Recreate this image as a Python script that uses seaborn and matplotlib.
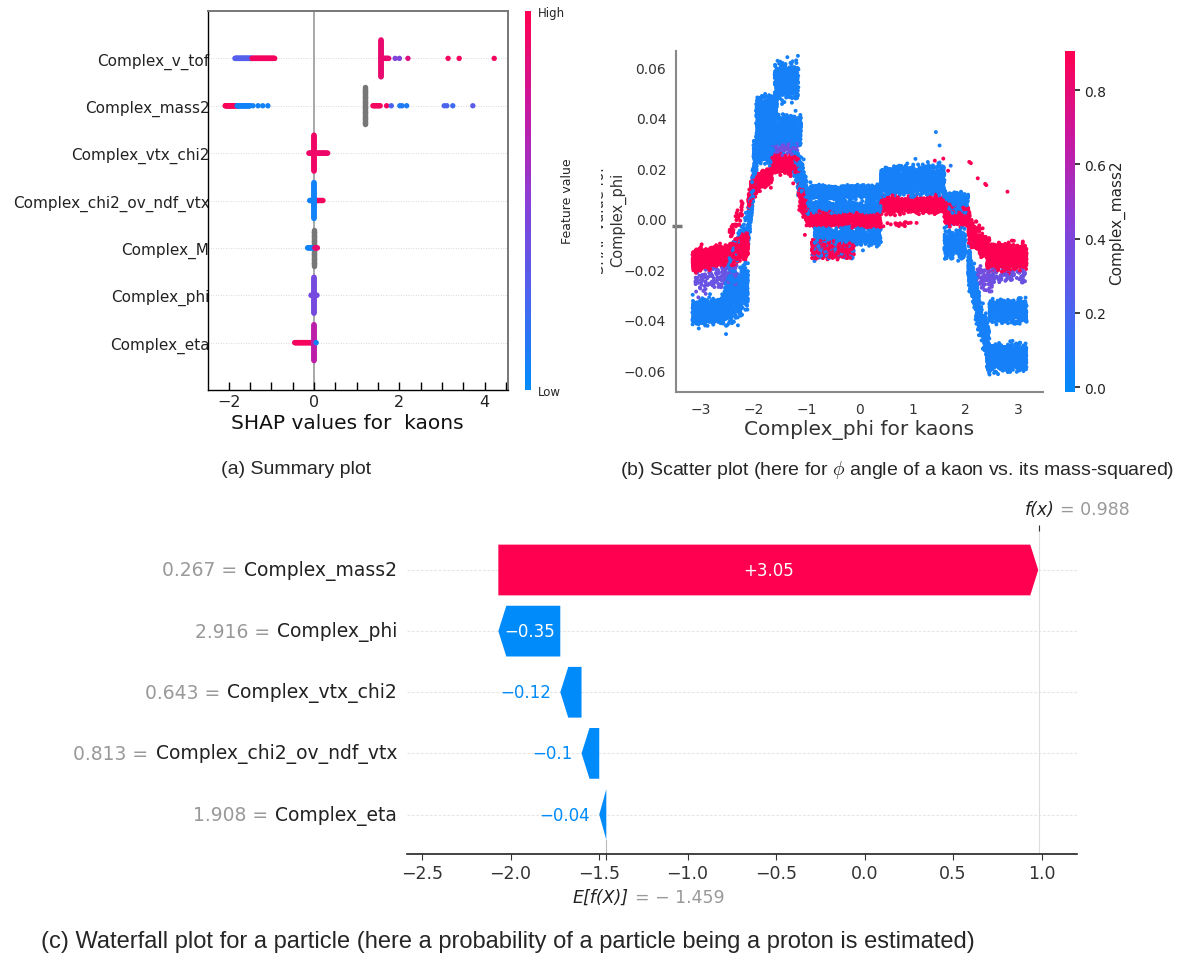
import numpy as np
import pandas as pd
import matplotlib
matplotlib.use("Agg")
import matplotlib.pyplot as plt
import seaborn as sns
from matplotlib.colors import LinearSegmentedColormap, Normalize
from matplotlib.cm import ScalarMappable
from matplotlib.patches import Polygon, Rectangle
from matplotlib.ticker import MultipleLocator

sns.set_theme(style="white")
plt.rcParams["font.family"] = ["DejaVu Sans"]
plt.rcParams["mathtext.fontset"] = "cm"

# ---------------------------------------------------------------- (a) summary
features_a = ["Complex_v_tof", "Complex_mass2", "Complex_vtx_chi2",
              "Complex_chi2_ov_ndf_vtx", "Complex_M", "Complex_phi", "Complex_eta"]

# horizontal runs of overlapping dots: feature, SHAP from, SHAP to, feature value, dots
streak_feature = ["Complex_v_tof", "Complex_v_tof", "Complex_v_tof",
                  "Complex_mass2", "Complex_mass2", "Complex_mass2",
                  "Complex_vtx_chi2", "Complex_chi2_ov_ndf_vtx", "Complex_chi2_ov_ndf_vtx",
                  "Complex_M", "Complex_M", "Complex_phi", "Complex_eta"]
streak_from = [-1.85, -1.45, 1.57, -2.08, -1.80, 1.38, -0.12, -0.10, 0.06, -0.15, 0.02, -0.07, -0.45]
streak_to = [-1.45, -0.92, 1.75, -1.80, -1.50, 1.55, 0.32, 0.06, 0.21, -0.02, 0.08, 0.07, -0.02]
streak_value = [0.28, 0.95, 0.9, 0.97, 0.06, 0.95, 0.92, 0.05, 0.95, 0.05, 0.9, 0.42, 0.96]
streak_count = [40, 45, 10, 30, 30, 8, 25, 12, 8, 8, 5, 10, 35]

# stacked piles of dots: feature, SHAP value, half height (rows), feature value (nan = missing), dots
pile_feature = ["Complex_v_tof", "Complex_mass2", "Complex_vtx_chi2",
                "Complex_chi2_ov_ndf_vtx", "Complex_M", "Complex_phi", "Complex_eta"]
pile_shap = [1.57, 1.19, 0.0, 0.0, 0.0, 0.0, 0.0]
pile_half = [0.39, 0.39, 0.38, 0.38, 0.38, 0.38, 0.38]
pile_value = [0.9, np.nan, 0.93, 0.06, np.nan, 0.42, 0.7]
pile_count = [45, 45, 45, 45, 45, 45, 45]

# isolated dots
dot_feature = ["Complex_v_tof"] * 6 + ["Complex_mass2"] * 14 + ["Complex_eta"]
dot_shap = [1.90, 2.00, 2.20, 3.14, 3.40, 4.22,
            -1.57, -1.43, -1.31, -1.20, -1.08, 1.70, 1.81, 2.01, 2.06, 2.17, 3.05, 3.11, 3.25, 3.72,
            0.05]
dot_value = [0.45, 0.45, 0.85, 0.95, 0.95, 0.95,
             0.06, 0.06, 0.06, 0.06, 0.06, 0.95, 0.25, 0.1, 0.1, 0.1, 0.25, 0.25, 0.2, 0.3,
             0.05]

# ---------------------------------------------------------------- (b) dependence
# bands of the Complex_phi dependence cloud:
# phi from, phi to, SHAP centre at start, SHAP centre at end, half thickness, Complex_mass2, points
band_phi_from = [-3.15, -2.45, -3.10, -3.15, -2.55, -2.50, -2.45,
                 -2.10, -1.95, -1.60, -1.95, -2.00, -1.65, -1.65, -2.05, -2.10, -1.25,
                 -1.15, -1.15,
                 -1.00, -1.00, -1.00, -0.85, -0.90, -0.90,
                 0.40, 0.40, 0.50,
                 1.60, 1.60, 1.60,
                 2.05, 2.05, 2.20, 2.20,
                 2.40, 2.45, 2.45, 2.40]
band_phi_to = [-2.45, -2.10, -2.30, -2.55, -2.10, -2.05, -2.20,
               -1.90, -1.55, -1.15, -1.10, -1.60, -1.15, -1.15, -1.65, -2.00, -1.10,
               -0.98, -0.98,
               0.40, 0.40, 0.40, 0.40, -0.10, -0.10,
               1.60, 1.60, 1.10,
               2.05, 2.08, 2.00,
               2.45, 2.25, 2.45, 2.50,
               3.15, 3.15, 3.15, 3.15]
band_shap_start = [-0.0165, -0.0145, -0.0255, -0.0375, -0.0340, -0.0200, -0.0060,
                   -0.0050, 0.0440, 0.0545, 0.0350, 0.0270, 0.0280, 0.0215, 0.0120, 0.0060, 0.0250,
                   0.0200, 0.0120,
                   0.0105, 0.0040, 0.0005, -0.0070, -0.0120, -0.0120,
                   0.0150, 0.0055, -0.0020,
                   0.0065, 0.0030, -0.0100,
                   -0.0040, -0.0180, -0.0350, -0.0220,
                   -0.0150, -0.0225, -0.0365, -0.0550]
band_shap_end = [-0.0145, -0.0100, -0.0220, -0.0360, -0.0260, 0.0020, 0.0040,
                 0.0350, 0.0440, 0.0545, 0.0350, 0.0270, 0.0280, 0.0215, 0.0180, 0.0110, 0.0150,
                 0.0080, 0.0020,
                 0.0105, 0.0040, -0.0010, -0.0070, -0.0120, -0.0120,
                 0.0150, 0.0055, -0.0020,
                 0.0050, 0.0000, -0.0100,
                 -0.0130, -0.0350, -0.0500, -0.0250,
                 -0.0150, -0.0225, -0.0365, -0.0550]
band_half = [0.0035, 0.0040, 0.0040, 0.0040, 0.0080, 0.0040, 0.0030,
             0.0060, 0.0040, 0.0055, 0.0050, 0.0040, 0.0025, 0.0028, 0.0028, 0.0030, 0.0060,
             0.0060, 0.0050,
             0.0022, 0.0020, 0.0025, 0.0030, 0.0030, 0.0030,
             0.0045, 0.0025, 0.0008,
             0.0035, 0.0035, 0.0045,
             0.0040, 0.0070, 0.0060, 0.0035,
             0.0038, 0.0025, 0.0035, 0.0042]
band_mass2 = [0.90, 0.90, 0.32, 0.05, 0.05, 0.05, 0.90,
              0.05, 0.05, 0.05, 0.05, 0.05, 0.35, 0.90, 0.90, 0.90, 0.05,
              0.05, 0.90,
              0.05, 0.05, 0.90, 0.05, 0.90, 0.08,
              0.05, 0.90, 0.90,
              0.05, 0.90, 0.05,
              0.90, 0.05, 0.05, 0.35,
              0.90, 0.33, 0.05, 0.05]
band_points = [700, 400, 130, 600, 500, 120, 40,
               300, 300, 400, 700, 300, 80, 500, 350, 80, 150,
               200, 200,
               900, 700, 900, 600, 500, 200,
               1200, 900, 15,
               400, 400, 350,
               300, 300, 250, 60,
               900, 80, 600, 800]

# single outlying kaons
outlier_phi = [1.44, 1.51, 1.42, 1.58, 1.52, 1.67, 1.72, 2.07, 2.10, 2.23, 2.37, 2.39, 2.79, -1.25, -1.03, 0.45]
outlier_shap = [0.0343, 0.0290, 0.0230, 0.0238, 0.0180, 0.0190, 0.0210, 0.0225, 0.0220, 0.0160,
                0.0138, 0.0133, 0.0107, 0.0140, -0.0064, -0.0030]
outlier_mass2 = [0.05, 0.05, 0.90, 0.90, 0.90, 0.90, 0.10, 0.90, 0.90, 0.90, 0.90, 0.90, 0.90,
                 0.90, 0.90, 0.90]
phi_mean_marker = -0.003

# ---------------------------------------------------------------- (c) waterfall
wf_features = ["Complex_mass2", "Complex_phi", "Complex_vtx_chi2", "Complex_chi2_ov_ndf_vtx", "Complex_eta"]
wf_feature_values = ["0.267", "2.916", "0.643", "0.813", "1.908"]
wf_shap = [3.05, -0.35, -0.12, -0.1, -0.04]
base_value = -1.459
fx_value = 0.988

# ---------------------------------------------------------------- figure
W, H = 1184, 962
fig = plt.figure(figsize=(W / 100, H / 100), dpi=100)


def axes_at(left, top, right, bottom):
    return fig.add_axes([left / W, 1 - bottom / H, (right - left) / W, (bottom - top) / H])


red = "#ff0051"
blue = "#008bfb"
shap_cmap = LinearSegmentedColormap.from_list(
    "shap_red_blue", [blue, "#4d63ee", "#8a3ed6", "#c8179e", red])

# ---------------- (a) summary plot
ax_a = axes_at(208, 12, 508, 391)
row_of = {f: len(features_a) - 1 - i for i, f in enumerate(features_a)}
recs = []
for f, x0, x1, v, n in zip(streak_feature, streak_from, streak_to, streak_value, streak_count):
    for x in np.linspace(x0, x1, n):
        recs.append((x, row_of[f], v))
for f, x, hh, v, n in zip(pile_feature, pile_shap, pile_half, pile_value, pile_count):
    for dy in np.linspace(-hh, hh, n):
        recs.append((x, row_of[f] + dy, v))
for f, x, v in zip(dot_feature, dot_shap, dot_value):
    recs.append((x, row_of[f], v))
summary = pd.DataFrame(recs, columns=["shap", "row", "value"])

for r in row_of.values():
    ax_a.axhline(r, color="#cccccc", lw=0.6, dashes=(1, 2), zorder=0)
ax_a.axvline(0, color="#999999", lw=1.2, zorder=0.5)

missing = summary[summary["value"].isna()]
present = summary[summary["value"].notna()]
sns.scatterplot(data=missing, x="shap", y="row", color="#777777", s=15,
                linewidth=0, ax=ax_a, zorder=3)
sns.scatterplot(data=present, x="shap", y="row", hue="value", palette=shap_cmap,
                hue_norm=(0, 1), s=15, linewidth=0, legend=False, ax=ax_a, zorder=3)

ax_a.set_xlim(-2.482, 4.543)
ax_a.set_ylim(-1, 7)
ax_a.set_yticks([row_of[f] for f in features_a])
ax_a.set_yticklabels(features_a)
ax_a.xaxis.set_major_locator(MultipleLocator(2))
ax_a.xaxis.set_minor_locator(MultipleLocator(0.5))
ax_a.tick_params(axis="x", which="both", direction="in", length=6, width=1, color="black",
                 bottom=True, labelsize=11.5, labelcolor="#222222", pad=3)
ax_a.tick_params(axis="y", length=0, labelsize=11, labelcolor="#222222", pad=-1)
ax_a.set_xlabel("SHAP values for  kaons", fontsize=14.5, color="#111111", labelpad=3)
ax_a.xaxis.label.set_x(0.465)
ax_a.set_ylabel("")
for side in ["left", "bottom"]:
    ax_a.spines[side].set_color("black")
    ax_a.spines[side].set_linewidth(1.0)
for side in ["top", "right"]:
    ax_a.spines[side].set_color("#777777")
    ax_a.spines[side].set_linewidth(1.4)

cax_a = axes_at(525, 12, 531, 391)
cb_a = fig.colorbar(ScalarMappable(Normalize(0, 1), shap_cmap), cax=cax_a, ticks=[0, 1])
cb_a.set_ticklabels(["Low", "High"])
cb_a.ax.tick_params(length=0, labelsize=8.5, pad=5)
cb_a.outline.set_visible(False)
cb_a.set_label("Feature value", size=9, labelpad=-3)

# ---------------- (b) dependence scatter
ax_b = axes_at(676, 52, 1043, 393)
rng = np.random.default_rng(11)
px, py, pc = [], [], []
for x0, x1, y0, y1, hw, c, n in zip(band_phi_from, band_phi_to, band_shap_start, band_shap_end,
                                    band_half, band_mass2, band_points):
    t = rng.uniform(0, 1, n)
    px.append(x0 + t * (x1 - x0))
    py.append(y0 + t * (y1 - y0) + rng.uniform(-hw, hw, n) * 0.85 + rng.normal(0, hw * 0.35, n))
    pc.append(np.full(n, c))
px.append(np.array(outlier_phi))
py.append(np.array(outlier_shap))
pc.append(np.array(outlier_mass2))
cloud = pd.DataFrame({"phi": np.concatenate(px), "shap": np.concatenate(py),
                      "mass2": np.concatenate(pc)})
cloud = cloud.iloc[rng.permutation(len(cloud))]

mass_lo, mass_hi = -0.0134, 0.906
sns.scatterplot(data=cloud, x="phi", y="shap", hue="mass2", palette=shap_cmap,
                hue_norm=(mass_lo, mass_hi), s=8, linewidth=0, legend=False, ax=ax_b)
ax_b.set_xlim(-3.46, 3.46)
ax_b.set_ylim(-0.0686, 0.0664)
ax_b.set_xticks([-3, -2, -1, 0, 1, 2, 3])
ax_b.set_yticks([-0.06, -0.04, -0.02, 0.0, 0.02, 0.04, 0.06])
ax_b.tick_params(length=4, width=1, color="#888888", labelsize=10, labelcolor="#333333", pad=3)
for side in ["top", "right"]:
    ax_b.spines[side].set_visible(False)
for side in ["left", "bottom"]:
    ax_b.spines[side].set_color("#888888")
    ax_b.spines[side].set_linewidth(1.5)
ax_b.set_xlabel("Complex_phi for kaons", fontsize=14.5, color="#333333", labelpad=2)
ax_b.set_ylabel("")
ax_b.plot([-0.012, 0.016], [phi_mean_marker, phi_mean_marker], transform=ax_b.get_yaxis_transform(),
          color="#777777", lw=2.5, clip_on=False, solid_capstyle="butt")

fig.text(609 / W, 1 - 220 / H, "SHAP value for\nComplex_phi", rotation=90, ha="center",
         va="center", fontsize=10.5, color="#333333", linespacing=1.25)
fig.add_artist(Rectangle((575 / W, 1 - 320 / H), 26 / W, 200 / H, transform=fig.transFigure,
                         facecolor="white", edgecolor="none", zorder=5))

cax_b = axes_at(1065, 52, 1075, 393)
cb_b = fig.colorbar(ScalarMappable(Normalize(mass_lo, mass_hi), shap_cmap), cax=cax_b)
cb_b.set_ticks([0.0, 0.2, 0.4, 0.6, 0.8])
cb_b.ax.tick_params(length=3.5, labelsize=10, labelcolor="#222222", pad=3)
cb_b.outline.set_visible(False)
cb_b.set_label("Complex_mass2", size=11, labelpad=2)

# ---------------- (c) waterfall
ax_c = axes_at(407, 532, 1077, 855)
ax_c.set_xlim(-2.585, 1.2)
ax_c.set_ylim(-0.646, 4.638)
n_wf = len(wf_features)
bar_h = 0.83
head = 0.045


def arrow_poly(s, e, y, h, hl):
    d = np.sign(e - s)
    hl = min(hl, abs(e - s))
    neck = e - d * hl
    return [(s, y - h / 2), (neck, y - h / 2), (e, y), (neck, y + h / 2), (s, y + h / 2)]


def fmt(v):
    txt = f"{v:.2f}".rstrip("0").rstrip(".")
    if v > 0:
        txt = "+" + txt
    return txt.replace("-", "\u2212")


for r in range(n_wf):
    ax_c.axhline(r, color="#e6e6e6", lw=0.8, dashes=(2.5, 1.5), zorder=0)
ax_c.axvline(fx_value, color="#dddddd", lw=0.8, zorder=0.5)
ax_c.plot([base_value, base_value], [-0.646, -bar_h / 2], color="#bbbbbb", lw=0.8, zorder=0.5)

start = base_value
for i in reversed(range(n_wf)):
    v = wf_shap[i]
    row = n_wf - 1 - i
    end = start + v
    col = red if v > 0 else blue
    ax_c.add_patch(Polygon(arrow_poly(start, end, row, bar_h, head), closed=True,
                           facecolor=col, edgecolor="none", zorder=3))
    if abs(v) >= 0.3:
        ax_c.text((start + end) / 2, row, fmt(v), ha="center", va="center", color="white",
                  fontsize=12, zorder=4)
    else:
        ax_c.annotate(fmt(v), xy=(end, row), xytext=(-6.5, 0), textcoords="offset points",
                      ha="right", va="center", color=col, fontsize=12, zorder=4)
    start = end

for i, (name, val) in enumerate(zip(wf_features, wf_feature_values)):
    row = n_wf - 1 - i
    t = ax_c.text(-0.0149, row, name, transform=ax_c.get_yaxis_transform(), ha="right",
                  va="center", fontsize=13.5, color="#222222")
    ax_c.annotate(f"{val} =", xy=(0, 0.5), xycoords=t, xytext=(-5, 0), textcoords="offset points",
                  ha="right", va="center", fontsize=13.5, color="#999999")

ax_c.set_yticks([])
ax_c.set_xticks([-2.5, -2.0, -1.5, -1.0, -0.5, 0.0, 0.5, 1.0])
ax_c.tick_params(axis="x", length=4, width=0.8, color="#333333", labelsize=12.5,
                 labelcolor="#333333", pad=3)
for side in ["left", "top", "right"]:
    ax_c.spines[side].set_visible(False)
ax_c.spines["bottom"].set_color("#222222")
ax_c.spines["bottom"].set_linewidth(1.2)

ax_top = ax_c.twiny()
ax_top.set_xlim(ax_c.get_xlim())
ax_top.set_xticks([fx_value])
ax_top.set_xticklabels([""])
ax_top.tick_params(length=4, width=0.8, color="#333333")
ax_base = ax_c.twiny()
ax_base.set_xlim(ax_c.get_xlim())
ax_base.xaxis.set_ticks_position("bottom")
ax_base.set_xticks([base_value])
ax_base.set_xticklabels([""])
ax_base.tick_params(length=4, width=0.8, color="#333333")
for extra in (ax_top, ax_base):
    for sp in extra.spines.values():
        sp.set_visible(False)

fx_lab = ax_c.annotate("f(x)", xy=(fx_value, 1), xycoords=ax_c.get_xaxis_transform(),
                       xytext=(-10.5, 16), textcoords="offset points", ha="left", va="center",
                       fontstyle="italic", fontsize=12.5, color="#222222")
ax_c.annotate(f"= {fx_value:.3f}", xy=(1, 0.5), xycoords=fx_lab, xytext=(4, 0),
              textcoords="offset points", ha="left", va="center", fontsize=12.5, color="#999999")
ef_lab = ax_c.annotate("E[f(X)]", xy=(base_value, 0), xycoords=ax_c.get_xaxis_transform(),
                       xytext=(-24, -31), textcoords="offset points", ha="left", va="center",
                       fontstyle="italic", fontsize=12.5, color="#222222")
ax_c.annotate("= \u2212 " + f"{abs(base_value):.3f}", xy=(1, 0.5), xycoords=ef_lab, xytext=(4, 0),
              textcoords="offset points", ha="left", va="center", fontsize=12.5, color="#999999")

# ---------------- captions
cap_font = ["Liberation Sans", "DejaVu Sans"]
fig.text(296 / W, 1 - 470 / H, "(a) Summary plot", ha="center", va="center",
         family=cap_font, fontsize=14)
fig.text(897 / W, 1 - 470 / H, r"(b) Scatter plot (here for $\phi$ angle of a kaon vs. its mass-squared)",
         ha="center", va="center", family=cap_font, fontsize=14)
fig.text(508 / W, 1 - 942 / H,
         "(c) Waterfall plot for a particle (here a probability of a particle being a proton is estimated)",
         ha="center", va="center", family=cap_font, fontsize=17)

fig.savefig("out.png", dpi=100, facecolor="white")
